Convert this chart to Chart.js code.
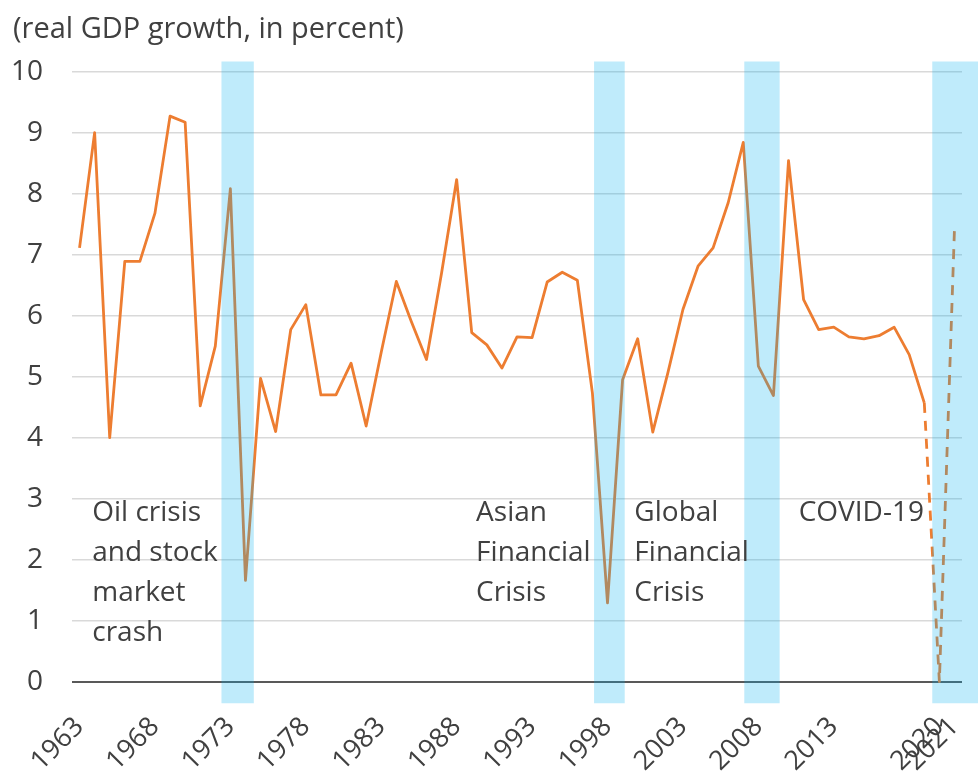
<!DOCTYPE html>
<html>
<head>
<meta charset="utf-8">
<script src="https://cdn.jsdelivr.net/npm/chart.js@4/dist/chart.umd.min.js"></script>
<style>
  html, body { margin: 0; padding: 0; background: #ffffff; }
  #wrap { width: 978px; height: 774px; }
</style>
</head>
<body>
<div id="wrap"><canvas id="c" width="978" height="774"></canvas></div>
<script>
// ---- data ----
const years = [1963,1964,1965,1966,1967,1968,1969,1970,1971,1972,1973,1974,1975,1976,1977,1978,1979,1980,1981,1982,1983,1984,1985,1986,1987,1988,1989,1990,1991,1992,1993,1994,1995,1996,1997,1998,1999,2000,2001,2002,2003,2004,2005,2006,2007,2008,2009,2010,2011,2012,2013,2014,2015,2016,2017,2018,2019,2020,2021];
const gdpGrowth = [7.11,9.0,4.0,6.89,6.89,7.68,9.27,9.17,4.52,5.5,8.08,1.66,4.97,4.10,5.77,6.18,4.70,4.70,5.22,4.19,5.4,6.56,5.9,5.28,6.7,8.23,5.72,5.52,5.14,5.65,5.64,6.55,6.71,6.58,4.73,1.29,4.95,5.62,4.09,5.06,6.10,6.81,7.11,7.85,8.84,5.17,4.69,8.54,6.26,5.77,5.81,5.65,5.62,5.67,5.81,5.36,4.57,0.0,7.41];
const tickYears = [1963,1968,1973,1978,1983,1988,1993,1998,2003,2008,2013,2020,2021];
const yTicks = [0,1,2,3,4,5,6,7,8,9,10];
const yMin = -0.35, yMax = 10.16;
const projectionFrom = 2019;   // segments from this year onward are dashed (projection)
const crisisStart = [1972.43, 1997.13, 2007.09, 2019.55];
const crisisEnd   = [1974.53, 1999.12, 2009.39, 2022.6];
const noteLines = [['Oil crisis','and stock','market','crash'], ['Asian','Financial','Crisis'], ['Global','Financial','Crisis'], ['COVID-19']];
const noteYear = [1963.84, 1989.29, 1999.78, 2010.67];
const noteValue = 2.63;
const titleText = '(real GDP growth, in percent)';

// ---- styling ----
const FONT = '"Open Sans", "Noto Sans", sans-serif';
const TEXT = '#404040';
const dashIdx = years.indexOf(projectionFrom);
const lastIdx = years.length - 1;

const notesPlugin = {
  id: 'notes',
  afterDraw(chart) {
    const ctx = chart.ctx, xs = chart.scales.x2, ys = chart.scales.y;
    ctx.save();
    ctx.fillStyle = TEXT;
    ctx.font = '28px ' + FONT;
    ctx.textAlign = 'left';
    ctx.textBaseline = 'alphabetic';
    noteLines.forEach((lines, i) => {
      const x = xs.getPixelForValue(noteYear[i]);
      const y0 = ys.getPixelForValue(noteValue);
      lines.forEach((t, j) => ctx.fillText(t, x, y0 + j * 40));
    });
    ctx.restore();
  }
};

function draw() {
  new Chart(document.getElementById('c'), {
    type: 'line',
    data: {
      labels: years.map(String),
      datasets: [
        {
          type: 'bar',
          indexAxis: 'y',
          xAxisID: 'x2',
          yAxisID: 'y2',
          data: crisisStart.map((s, i) => ({ y: 0, x: [s, crisisEnd[i]] })),
          backgroundColor: 'rgba(0,176,240,0.25)',
          borderWidth: 0,
          grouped: false,
          barPercentage: 1,
          categoryPercentage: 1,
          clip: false,
          order: 0
        },
        {
          type: 'line',
          xAxisID: 'x',
          yAxisID: 'y',
          data: gdpGrowth,
          borderColor: '#ED7D31',
          borderWidth: 2.8,
          borderJoinStyle: 'round',
          borderCapStyle: 'butt',
          tension: 0,
          pointRadius: 0,
          fill: false,
          segment: {
            borderDash: c => (c.p0DataIndex >= dashIdx ? [10, 8] : undefined)
          },
          order: 1
        }
      ]
    },
    options: {
      responsive: false,
      animation: false,
      layout: { padding: { left: 13, right: 16, top: 0, bottom: 0 } },
      plugins: {
        legend: { display: false },
        tooltip: { enabled: false },
        title: {
          display: true,
          text: titleText,
          align: 'start',
          color: TEXT,
          font: { family: FONT, size: 29, weight: 'normal' },
          padding: { top: 12, bottom: 15 }
        }
      },
      scales: {
        x: {
          type: 'category',
          offset: true,
          grid: { display: false, drawTicks: false },
          border: { display: false },
          ticks: {
            autoSkip: false,
            maxRotation: 45,
            minRotation: 45,
            padding: 8,
            labelOffset: c => (c && c.index === lastIdx ? 22 : 0),
            color: TEXT,
            font: { family: FONT, size: 27 },
            callback: function(v, i) { return tickYears.includes(years[i]) ? String(years[i]) : ''; }
          },
          afterFit(s) { s.height = 71; s.paddingLeft = 0; s.paddingRight = 0; }
        },
        y: {
          type: 'linear',
          min: yMin,
          max: yMax,
          border: { display: false },
          grid: {
            drawTicks: false,
            color: c => (c.tick && c.tick.value === 0 ? '#595959' : '#d9d9d9'),
            lineWidth: c => (c.tick && c.tick.value === 0 ? 2 : 1.5)
          },
          ticks: {
            stepSize: 1,
            includeBounds: false,
            padding: 29,
            color: TEXT,
            font: { family: FONT, size: 28 },
            callback: v => (yTicks.includes(v) ? String(v) : '')
          },
          afterFit(s) { s.width = 59; s.paddingTop = 0; s.paddingBottom = 0; }
        },
        x2: {
          type: 'linear',
          axis: 'x',
          display: false,
          min: years[0] - 0.5,
          max: years[years.length - 1] + 0.5
        },
        y2: {
          type: 'linear',
          axis: 'y',
          display: false,
          min: -0.5,
          max: 0.5,
          ticks: { stepSize: 1, includeBounds: false },
          afterBuildTicks(s) { s.ticks = [{ value: 0 }]; }
        }
      }
    },
    plugins: [notesPlugin]
  });
}

if (document.fonts && document.fonts.load) {
  Promise.all([document.fonts.load('28px "Open Sans"')]).then(draw, draw);
} else { draw(); }
</script>
</body>
</html>
